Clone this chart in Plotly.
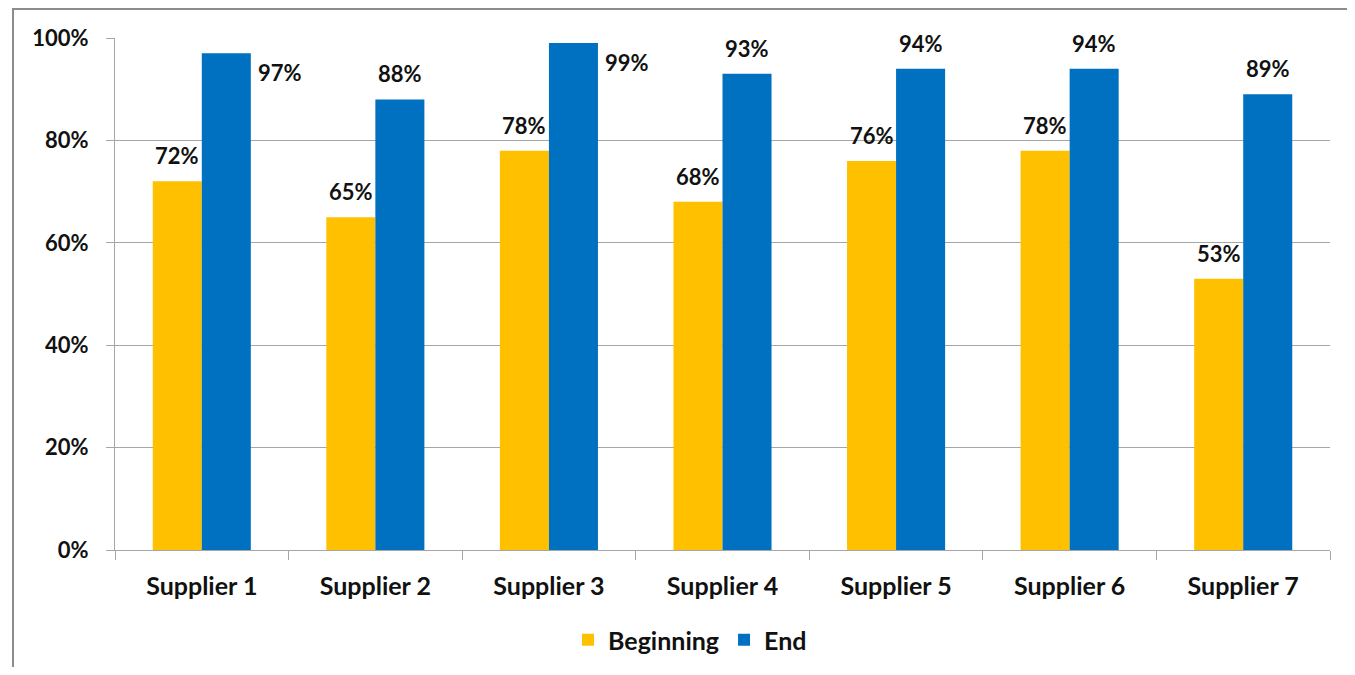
import plotly.graph_objects as go

categories = ["Supplier 1", "Supplier 2", "Supplier 3", "Supplier 4", "Supplier 5", "Supplier 6", "Supplier 7"]
beginning = [0.72, 0.65, 0.78, 0.68, 0.76, 0.78, 0.53]
end = [0.97, 0.88, 0.99, 0.93, 0.94, 0.94, 0.89]
y_ticks = [0, 0.2, 0.4, 0.6, 0.8, 1.0]
y_tick_labels = ["0%", "20%", "40%", "60%", "80%", "100%"]

YELLOW = "#FFC000"
BLUE = "#0070C0"
FONT = "Lato"
GRAY = "#A6A6A6"
TXT = "#111111"

# page body has an 8px offset; figure sized to fit inside the window
OFF = 8
W, H = 1339, 659
ML, MT = 115 - OFF, 38 - OFF
MR = W - (1330 - OFF)
MB = H - (550 - OFF)
plot_w = W - ML - MR
plot_h = H - MT - MB
cat_w = plot_w / len(categories)
bargap = 0.435
half_bar = cat_w * (1 - bargap) / 4


def px_x(p):
    return (p - OFF - ML) / plot_w


def px_y(p):
    return (H - MB - (p - OFF)) / plot_h


fig = go.Figure()
fig.add_trace(go.Bar(name="Beginning", x=categories, y=beginning, marker_color=YELLOW,
                     marker_line_width=0))
fig.add_trace(go.Bar(name="End", x=categories, y=end, marker_color=BLUE,
                     marker_line_width=0))

lab_font = dict(family=FONT, size=22, color=TXT, weight="bold")
annotations = []
for c, v in zip(categories, beginning):
    annotations.append(dict(x=c, y=v, xref="x", yref="y", text=f"{round(v*100)}%",
                            showarrow=False, xshift=-half_bar, yshift=10,
                            yanchor="bottom", xanchor="center", font=lab_font))
for c, v in zip(categories, end):
    if v > 0.95:
        annotations.append(dict(x=c, y=v, xref="x", yref="y", text=f"{round(v*100)}%",
                                showarrow=False, xshift=2 * half_bar + 5, yshift=-19,
                                yanchor="middle", xanchor="left", font=lab_font))
    else:
        annotations.append(dict(x=c, y=v, xref="x", yref="y", text=f"{round(v*100)}%",
                                showarrow=False, xshift=half_bar, yshift=10,
                                yanchor="bottom", xanchor="center", font=lab_font))

fig.update_layout(
    width=W, height=H,
    margin=dict(l=ML, r=MR, t=MT, b=MB, pad=0, autoexpand=False),
    paper_bgcolor="white", plot_bgcolor="white",
    barmode="group", bargap=bargap, bargroupgap=0,
    font=dict(family=FONT, size=22, color=TXT, weight="bold"),
    legend=dict(orientation="h", xref="container", yref="container",
                x=(690 - OFF) / W, xanchor="center",
                y=1 - (640 - OFF) / H, yanchor="middle",
                font=dict(family=FONT, size=25, color=TXT, weight="bold"),
                itemwidth=30, traceorder="normal"),
    annotations=annotations,
    shapes=[
        dict(type="line", xref="paper", yref="paper", x0=px_x(13), x1=px_x(13),
             y0=px_y(8), y1=px_y(700), line=dict(color="#8C8C8C", width=2)),
        dict(type="line", xref="paper", yref="paper", x0=px_x(13), x1=px_x(1400),
             y0=px_y(9), y1=px_y(9), line=dict(color="#8C8C8C", width=2)),
    ],
)
fig.update_yaxes(range=[0, 1], tickvals=y_ticks, ticktext=y_tick_labels,
                 showgrid=True, gridcolor=GRAY, gridwidth=1,
                 showline=True, linecolor=GRAY, linewidth=1,
                 ticks="outside", ticklen=8, tickcolor=GRAY,
                 ticklabelstandoff=13, zeroline=False, automargin=False,
                 tickfont=dict(family=FONT, size=22, color=TXT, weight="bold"))
fig.update_xaxes(showline=True, linecolor=GRAY, linewidth=1,
                 ticks="outside", tickson="boundaries", ticklen=9, tickcolor=GRAY,
                 ticklabelstandoff=14, automargin=False,
                 tickfont=dict(family=FONT, size=25, color=TXT, weight="bold"))

fig.write_html("out.html")
